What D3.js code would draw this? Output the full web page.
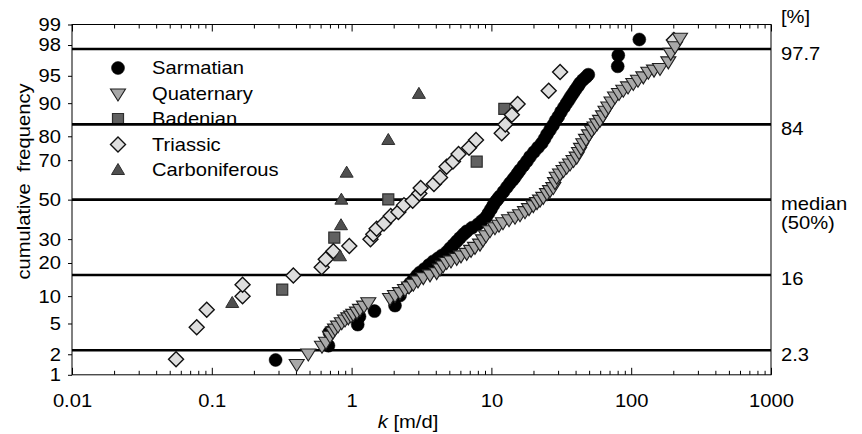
<!DOCTYPE html>
<html>
<head>
<meta charset="utf-8">
<script src="https://cdn.jsdelivr.net/npm/d3@7"></script>
<style>
body { margin: 0; background: #fff; }
svg text { font-family: "Liberation Sans", Arial, sans-serif; fill: #000; }
</style>
</head>
<body>
<svg id="chart"></svg>
<script>
const w = 862
const h = 434
const fs = 18.5
const stretchX = 1.09

// k [m/d] and cumulative frequency [%] of each sample
const sarmatianK = [0.286, 0.683, 0.693, 1.106, 1.139, 1.458, 2.044, 2.22, 2.478, 2.617, 2.772, 2.937, 3.085, 3.323, 3.578, 3.841, 4.15, 4.433, 4.79, 5.057, 5.357, 5.646, 5.963, 6.317, 6.658, 7.265, 8.019, 8.566, 9.151, 9.535, 9.934, 10.32, 10.79, 11.15, 11.52, 12.21, 12.93, 13.59, 14.27, 14.75, 15.37, 16.02, 16.97, 17.98, 18.89, 20.17, 21.54, 22.9, 23.98, 24.99, 26.26, 27.58, 28.74, 30.1, 31.47, 33.06, 34.56, 35.9, 37.1, 38.53, 39.96, 41.64, 43.04, 45.22, 47.5, 49.33, 80.08, 80.87, 114.3]
const sarmatianP = [1.66, 2.62, 3.9, 4.85, 6.02, 6.94, 7.97, 10.15, 12.24, 13.28, 14.46, 15.7, 16.68, 17.88, 19.3, 20.61, 21.78, 22.96, 24.32, 25.88, 27.43, 29.01, 30.61, 32.28, 33.72, 35.46, 37.18, 38.97, 40.79, 42.86, 44.95, 47.09, 49.2, 50.53, 51.86, 54.24, 56.63, 58.71, 60.52, 61.79, 63.57, 65.28, 67.47, 69.6, 71.6, 73.66, 75.59, 77.31, 79.02, 80.7, 82.3, 83.82, 85.24, 86.52, 87.84, 89.01, 90.02, 90.81, 91.51, 92.16, 92.79, 93.41, 93.93, 94.44, 94.81, 95.15, 96.17, 97.24, 98.33]

const quaternaryK = [0.405, 0.49, 0.614, 0.656, 0.701, 0.736, 0.761, 0.799, 0.85, 0.897, 0.947, 0.99, 1.028, 1.093, 1.148, 1.227, 1.317, 1.883, 2.044, 2.22, 2.41, 2.574, 2.763, 2.985, 3.258, 3.638, 4.06, 4.29, 4.51, 4.79, 5.14, 5.65, 6.06, 6.66, 7.15, 7.63, 8.29, 8.71, 9.15, 9.77, 10.6, 11.33, 12.1, 13.37, 14.75, 16.02, 17.39, 18.58, 19.94, 21.2, 22.27, 23.5, 24.99, 26.26, 27.72, 28.51, 29.32, 30.96, 32.8, 34.56, 36.5, 38.67, 40.76, 42.33, 43.75, 45.44, 47.5, 49.9, 52.2, 54.64, 56.94, 59.8, 62.84, 65.5, 68.6, 72.3, 76.6, 81.8, 87.8, 94.9, 103.5, 111.8, 122.1, 132.6, 145.6, 160.7, 184.3, 191.7, 205.8, 223.4]
const quaternaryP = [1.45, 2.05, 2.62, 2.96, 3.54, 3.98, 4.34, 4.72, 5.17, 5.56, 5.9, 6.18, 6.46, 6.85, 7.34, 7.97, 8.65, 9.57, 10.26, 10.96, 11.76, 12.45, 13.2, 14.17, 15.18, 16.04, 16.78, 18.06, 19.13, 20.36, 20.98, 21.97, 22.96, 23.98, 25.24, 26.54, 27.96, 29.9, 31.8, 34.2, 35.68, 36.95, 38.21, 39.74, 41.02, 42.35, 43.92, 45.5, 47.09, 48.68, 50, 51.48, 53.47, 55.05, 56.63, 59.21, 61.94, 63.57, 65.28, 66.89, 68.44, 70.09, 71.6, 73.66, 75.4, 77.31, 79.02, 80.7, 82.3, 83.46, 84.45, 85.54, 86.86, 88.1, 89.2, 90.39, 91.48, 92.16, 92.79, 93.37, 93.93, 94.44, 94.92, 95.54, 95.79, 95.99, 96.69, 97.44, 97.92, 98.42]

const badenianK = [0.319, 0.752, 1.83, 7.85, 12.37]
const badenianP = [11.6, 30.7, 50.1, 69.3, 88.6]

const triassicK = [0.0555, 0.078, 0.092, 0.166, 0.166, 0.383, 0.611, 0.653, 0.74, 0.963, 1.365, 1.43, 1.51, 1.705, 1.905, 2.16, 2.37, 2.735, 3.05, 3.12, 3.88, 4.29, 4.78, 5.31, 5.82, 6.92, 7.76, 11.85, 12.57, 14.0, 15.4, 25.7, 31.0, 202]
const triassicP = [1.7, 4.5, 7.2, 10.0, 12.9, 15.7, 18.5, 21.4, 24.7, 26.9, 29.9, 32.3, 35.0, 37.6, 41.4, 43.5, 47.1, 49.4, 53.3, 56.2, 58.2, 61.6, 66.9, 69.4, 72.8, 75.5, 78.6, 81.1, 84.1, 87.0, 89.8, 92.6, 95.5, 98.3]

const carboniferousK = [0.14, 0.826, 0.84, 0.845, 0.922, 1.83, 3.03]
const carboniferousP = [8.5, 22.6, 36.7, 50, 64, 78.6, 92]

const xTicks = [0.01, 0.1, 1, 10, 100, 1000]
const xTickLabels = ['0.01', '0.1', '1', '10', '100', '1000']
const yTicks = [1, 2, 5, 10, 20, 30, 50, 70, 80, 90, 95, 98, 99]
// mean, +-1 sigma, +-2 sigma
const refLevels = [2.275, 15.87, 50, 84.13, 97.725]
const refLabels = [['2.3'], ['16'], ['median', '(50%)'], ['84'], ['97.7']]

const margin = { left: 72, right: 91, top: 24.5, bottom: 59.2 }
const innerW = w - margin.left - margin.right
const innerH = h - margin.top - margin.bottom

// inverse normal cdf (Acklam)
function probit(p) {
	const a = [-39.69683028665376, 220.9460984245205, -275.9285104469687, 138.3577518672690, -30.66479806614716, 2.506628277459239]
	const b = [-54.47609879822406, 161.5858368580409, -155.6989798598866, 66.80131188771972, -13.28068155288572]
	const c = [-0.007784894002430293, -0.3223964580411365, -2.400758277161838, -2.549732539343734, 4.374664141464968, 2.938163982698783]
	const d = [0.007784695709041462, 0.3224671290700398, 2.445134137142996, 3.754408661907416]
	const pl = 0.02425
	let q, r
	if (p < pl) {
		q = Math.sqrt(-2 * Math.log(p))
		return (((((c[0] * q + c[1]) * q + c[2]) * q + c[3]) * q + c[4]) * q + c[5]) / ((((d[0] * q + d[1]) * q + d[2]) * q + d[3]) * q + 1)
	}
	if (p > 1 - pl) {
		q = Math.sqrt(-2 * Math.log(1 - p))
		return -(((((c[0] * q + c[1]) * q + c[2]) * q + c[3]) * q + c[4]) * q + c[5]) / ((((d[0] * q + d[1]) * q + d[2]) * q + d[3]) * q + 1)
	}
	q = p - 0.5
	r = q * q
	return (((((a[0] * r + a[1]) * r + a[2]) * r + a[3]) * r + a[4]) * r + a[5]) * q / (((((b[0] * r + b[1]) * r + b[2]) * r + b[3]) * r + b[4]) * r + 1)
}

const xScale = d3.scaleLog().domain([0.01, 1000]).range([0, innerW])
const zScale = d3.scaleLinear().domain([probit(0.01), probit(0.99)]).range([innerH, 0])
const yPos = p => zScale(probit(p / 100))

const shapes = {
	circle: 'M-6.5,0A6.5,6.5 0 1,0 6.5,0A6.5,6.5 0 1,0 -6.5,0Z',
	down: 'M-7.5,-4.5L7.5,-4.5L0,7.5Z',
	up: 'M-6.5,4.5L6.5,4.5L0,-6.5Z',
	square: 'M-5.5,-5.5H5.5V5.5H-5.5Z',
	diamond: 'M0,-7.5L7.5,0L0,7.5L-7.5,0Z'
}

const series = [
	{ name: 'Sarmatian', k: sarmatianK, p: sarmatianP, shape: 'circle', fill: '#000', stroke: '#000', sw: 0.5, order: 0 },
	{ name: 'Quaternary', k: quaternaryK, p: quaternaryP, shape: 'down', fill: '#a8a8a8', stroke: '#1e1e1e', sw: 1.1, order: 3 },
	{ name: 'Badenian', k: badenianK, p: badenianP, shape: 'square', fill: '#616161', stroke: '#2e2e2e', sw: 1.2, order: 1 },
	{ name: 'Triassic', k: triassicK, p: triassicP, shape: 'diamond', fill: '#dedede', stroke: '#111', sw: 1.4, order: 2 },
	{ name: 'Carboniferous', k: carboniferousK, p: carboniferousP, shape: 'up', fill: '#4f4f4f', stroke: '#2e2e2e', sw: 1, order: 4 }
]

function stretch(sel) {
	sel.each(function () {
		const len = this.getComputedTextLength()
		d3.select(this).attr('textLength', len * stretchX).attr('lengthAdjust', 'spacingAndGlyphs')
	})
}

const SVG = d3.select('#chart').attr('width', w).attr('height', h)
const g = SVG.append('g').attr('transform', `translate(${margin.left}, ${margin.top})`)

// legend (drawn first, the reference lines cut through it)
const legend = g.append('g').attr('transform', 'translate(46, 43.5)')
series.forEach((s, i) => {
	const row = legend.append('g').attr('transform', `translate(0, ${i * 25.5})`)
	row.append('text')
		.attr('x', 34).attr('y', 0).attr('dy', '0.35em')
		.attr('font-size', fs)
		.text(s.name)
		.call(stretch)
})

// +-sigma lines
g.selectAll('line.ref').data(refLevels).enter().append('line')
	.attr('class', 'ref')
	.attr('x1', 0).attr('x2', innerW)
	.attr('y1', d => yPos(d)).attr('y2', d => yPos(d))
	.attr('stroke', '#000').attr('stroke-width', 2.6)

// axes
const minorX = xScale.ticks().filter(d => !xTicks.includes(d))
const styleAxis = a => {
	a.select('.domain').remove()
	a.attr('font-size', fs).attr('font-family', '"Liberation Sans", Arial, sans-serif')
	a.selectAll('line').attr('stroke', '#000')
}
g.append('g').attr('transform', `translate(0, ${innerH})`)
	.call(d3.axisBottom(xScale).tickValues(xTicks).tickFormat((d, i) => xTickLabels[i]).tickSize(-7).tickPadding(19))
	.call(styleAxis)
	.selectAll('text').call(stretch)
g.append('g').attr('transform', `translate(0, ${innerH})`)
	.call(d3.axisBottom(xScale).tickValues(minorX).tickFormat('').tickSize(-4))
	.call(styleAxis)
g.append('g')
	.call(d3.axisTop(xScale).tickValues(xTicks).tickFormat('').tickSize(-7))
	.call(styleAxis)
g.append('g')
	.call(d3.axisTop(xScale).tickValues(minorX).tickFormat('').tickSize(-4))
	.call(styleAxis)
g.append('g')
	.call(d3.axisLeft(zScale).tickValues(yTicks.map(p => probit(p / 100))).tickFormat((d, i) => yTicks[i]).tickSize(4).tickPadding(7))
	.call(styleAxis)
	.selectAll('text').call(stretch)

// points
series.slice().sort((a, b) => a.order - b.order).forEach(s => {
	g.append('g').selectAll('path').data(s.k.map((k, i) => ({ k, p: s.p[i] })))
		.enter().append('path')
		.attr('transform', d => `translate(${xScale(d.k)}, ${yPos(d.p)})`)
		.attr('d', shapes[s.shape])
		.attr('fill', s.fill)
		.attr('stroke', s.stroke)
		.attr('stroke-width', s.sw)
})

// legend markers
series.forEach((s, i) => {
	legend.append('path')
		.attr('transform', `translate(0, ${i * 25.5})`)
		.attr('d', shapes[s.shape])
		.attr('fill', s.fill)
		.attr('stroke', s.stroke)
		.attr('stroke-width', s.sw)
})

// frame
g.append('rect')
	.attr('width', innerW).attr('height', innerH)
	.attr('fill', 'none').attr('stroke', '#000').attr('stroke-width', 1)

// right-hand labels
const right = g.append('g').attr('transform', `translate(${innerW + 10}, 0)`)
right.append('text').attr('y', -1.5).attr('font-size', fs).text('[%]').call(stretch)
refLevels.forEach((lv, i) => {
	refLabels[i].forEach((t, j) => {
		right.append('text')
			.attr('y', yPos(lv) + 10.5 + j * 19)
			.attr('font-size', fs)
			.text(t)
			.call(stretch)
	})
})

// axis titles
const xt = g.append('text')
	.attr('x', 336).attr('y', innerH + 53)
	.attr('text-anchor', 'middle')
	.attr('font-size', fs)
xt.append('tspan').attr('font-style', 'italic').text('k')
xt.append('tspan').text(' [m/d]')
xt.call(stretch)

g.append('text')
	.attr('transform', `translate(${-42.5}, ${157}) rotate(-90)`)
	.attr('text-anchor', 'middle')
	.attr('font-size', fs)
	.style('white-space', 'pre')
	.text('cumulative  frequency')
	.call(stretch)
</script>
</body>
</html>
